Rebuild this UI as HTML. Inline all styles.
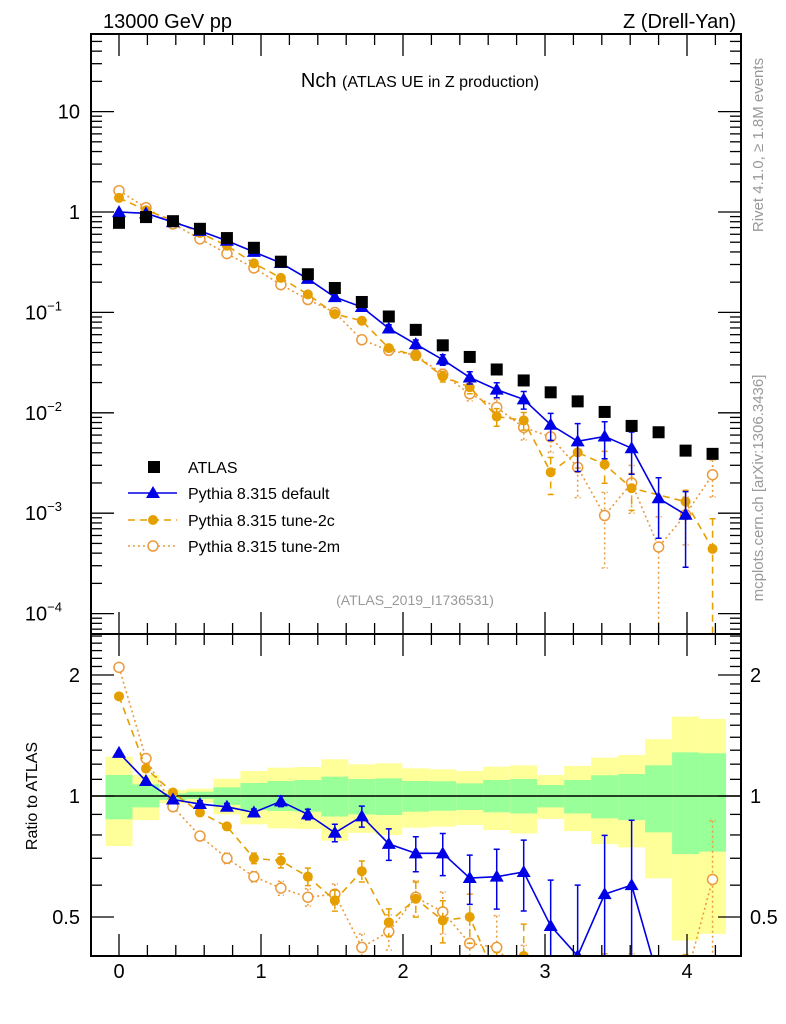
<!DOCTYPE html>
<html><head><meta charset="utf-8"><style>
html,body{margin:0;background:#fff;overflow:hidden;width:786px;height:1024px}
svg{display:block;font-family:"Liberation Sans",sans-serif}
</style></head><body>
<svg id="chart" width="786" height="1024" viewBox="0 0 786 1024" xmlns="http://www.w3.org/2000/svg">
<defs>
<clipPath id="clipMain"><rect x="91" y="34" width="650" height="600"/></clipPath>
<clipPath id="clipRatio"><rect x="91" y="634" width="650" height="322"/></clipPath>
</defs>
<g id="bands" clip-path="url(#clipRatio)"></g>
<g id="ratioMarks" clip-path="url(#clipRatio)"></g>
<g id="mainMarks" clip-path="url(#clipMain)"></g>
<g id="axes"></g>
<text x="103" y="28" font-size="20">13000 GeV pp</text>
<text x="736" y="28" font-size="20" text-anchor="end">Z (Drell-Yan)</text>
<text x="420" y="87" text-anchor="middle" font-size="20">Nch <tspan font-size="16">(ATLAS UE in Z production)</tspan></text>
<text x="415" y="605" text-anchor="middle" font-size="14" fill="#999">(ATLAS_2019_I1736531)</text>
<text transform="translate(763,145) rotate(-90)" text-anchor="middle" font-size="15" fill="#999">Rivet 4.1.0, ≥ 1.8M events</text>
<text transform="translate(763,488) rotate(-90)" text-anchor="middle" font-size="15" fill="#999">mcplots.cern.ch [arXiv:1306.3436]</text>
<text transform="translate(37,796) rotate(-90)" text-anchor="middle" font-size="16">Ratio to ATLAS</text>
<g id="legend"></g>
</svg>
<script>
const binStep = 0.19;
const dataVals = [0.78,0.89,0.81,0.68,0.55,0.44,0.32,0.24,0.175,0.127,0.091,0.067,0.047,0.036,0.027,0.021,0.016,0.013,0.0102,0.0074,0.0064,0.0042,0.0039];
const ratioDefault = [1.28,1.09,0.98,0.955,0.94,0.91,0.97,0.90,0.81,0.89,0.76,0.72,0.72,0.625,0.63,0.647,0.475,0.40,0.57,0.60,0.22,0.23,null];
const errDefault = [0.01,0.01,0.01,0.02,0.02,0.02,0.03,0.03,0.05,0.06,0.09,0.1,0.12,0.14,0.17,0.2,0.3,0.5,0.4,0.45,0.6,0.7,0];
const ratio2c = [1.77,1.17,1.02,0.91,0.84,0.70,0.69,0.63,0.55,0.65,0.485,0.555,0.49,0.50,0.34,0.40,0.16,0.31,0.30,0.24,null,0.31,0.113];
const err2c = [0.01,0.01,0.01,0.02,0.02,0.03,0.04,0.05,0.06,0.06,0.08,0.1,0.12,0.14,0.2,0.2,0.4,0.3,0.35,0.4,0,0.3,1.0];
const ratio2m = [2.09,1.24,0.94,0.795,0.70,0.63,0.59,0.56,0.57,0.42,0.46,0.56,0.515,0.43,0.42,0.34,0.36,0.22,0.093,0.27,0.072,0.23,0.62];
const err2m = [0.01,0.01,0.01,0.02,0.03,0.03,0.04,0.05,0.06,0.08,0.1,0.1,0.12,0.15,0.2,0.25,0.3,0.5,0.7,0.5,1.0,0.5,0.4];
const yellowHi = [1.253,1.128,1.035,1.043,1.104,1.154,1.176,1.181,1.234,1.199,1.206,1.172,1.165,1.154,1.183,1.192,1.128,1.188,1.246,1.265,1.384,1.576,1.555];
const yellowLo = [0.751,0.871,0.959,0.962,0.900,0.850,0.831,0.828,0.774,0.810,0.800,0.834,0.839,0.847,0.823,0.807,0.877,0.818,0.759,0.745,0.624,0.437,0.454];
const greenHi = [1.128,1.069,1.015,1.025,1.051,1.077,1.090,1.096,1.117,1.102,1.106,1.090,1.088,1.075,1.096,1.102,1.065,1.096,1.126,1.134,1.192,1.284,1.277];
const greenLo = [0.875,0.937,0.977,0.983,0.950,0.923,0.918,0.914,0.889,0.900,0.897,0.914,0.919,0.923,0.911,0.905,0.937,0.905,0.880,0.871,0.812,0.717,0.727];
const xTickLabels = ["0","1","2","3","4"];
const mainTickExps = [1,0,-1,-2,-3,-4];
const ratioTickLabels = ["2","1","0.5"];

const NS="http://www.w3.org/2000/svg";
function X(v){return 119+142*v;}
function YM(v){return 212-100.4*Math.log10(v);}
function YR(v){return 796-121*Math.log2(v);}
function mk(tag,attrs,parent){const e=document.createElementNS(NS,tag);for(const k in attrs)e.setAttribute(k,attrs[k]);parent.appendChild(e);return e;}
const gB=document.getElementById('bands'),gR=document.getElementById('ratioMarks'),gM=document.getElementById('mainMarks'),gA=document.getElementById('axes'),gL=document.getElementById('legend');

for(let i=0;i<dataVals.length;i++){
  const x0=X((i-0.5)*binStep),x1=X((i+0.5)*binStep);
  const y=mk('rect',{x:x0,y:YR(yellowHi[i]),width:x1-x0,height:YR(yellowLo[i])-YR(yellowHi[i]),fill:'#ffff99'},gB);
  
  
  const g=mk('rect',{x:x0,y:YR(greenHi[i]),width:x1-x0,height:YR(greenLo[i])-YR(greenHi[i]),fill:'#99ff99'},gB);
  
  
}
const one=mk('line',{x1:91,x2:741,y1:YR(1),y2:YR(1),stroke:'#000','stroke-width':1.5},gB);



const series=[
 {name:'default',r:ratioDefault,e:errDefault,col:'#0000e6',dash:'',marker:'tri',lw:1.6},
 {name:'tune-2c',r:ratio2c,e:err2c,col:'#e69f00',dash:'7,5',marker:'dot',lw:1.6},
 {name:'tune-2m',r:ratio2m,e:err2m,col:'#eb9a3c',dash:'2,3',marker:'ring',lw:1.6}
];
function marker(type,x,y,col,parent,name){
  let e;
  if(type==='tri') e=mk('polygon',{points:`${x},${y-7} ${x-7},${y+5} ${x+7},${y+5}`,fill:col},parent);
  else if(type==='dot') e=mk('circle',{cx:x,cy:y,r:5,fill:col},parent);
  else if(type==='ring') e=mk('circle',{cx:x,cy:y,r:5,fill:'#fff',stroke:col,'stroke-width':1.5},parent);
  else e=mk('rect',{x:x-6,y:y-6,width:12,height:12,fill:'#000'},parent);
  
  
  return e;
}
function clampY(y){return Math.max(20,Math.min(y,960));}
function drawSeries(s,parent,yf,isMain){
  let pts=[];
  for(let i=0;i<s.r.length;i++){
    if(s.r[i]==null){continue;}
    const v=isMain?s.r[i]*dataVals[i]:s.r[i];
    pts.push([X(i*binStep),yf(v),v,s.e[i]]);
  }
  const pl=mk('polyline',{points:pts.map(p=>p[0]+','+Math.min(p[1],980)).join(' '),fill:'none',stroke:s.col,'stroke-width':s.lw,'stroke-dasharray':s.dash},parent);
  
  
  pts.forEach((p,k)=>{
    if(p[3]>0){
      const hi=clampY(yf(p[2]*(1+p[3]))), lo=(1-p[3])>0.001?clampY(yf(p[2]*(1-p[3]))):960;
      if(hi<960){
        const eb=mk('path',{d:`M${p[0]},${hi}V${lo}M${p[0]-3},${hi}h6M${p[0]-3},${lo}h6`,stroke:s.col,'stroke-width':1.5,fill:'none','stroke-dasharray':s.dash},parent);
        
        
      }
    }
    if(p[1]<980) marker(s.marker,p[0],p[1],s.col,parent,s.name+'-point');
  });
}
series.slice().reverse().forEach(s=>{drawSeries(s,gR,YR,false);});
series.slice().reverse().forEach(s=>{drawSeries(s,gM,YM,true);});
dataVals.forEach((v,i)=>marker('sq',X(i*binStep),YM(v),'#000',gM,'atlas-point'));

[[91,34,650,600],[91,634,650,322]].forEach((r,k)=>{
  const f=mk('rect',{x:r[0],y:r[1],width:r[2],height:r[3],fill:'none',stroke:'#000','stroke-width':2},gA);
  
  
});
function tick(x1,y1,x2,y2){const t=mk('line',{x1,y1,x2,y2,stroke:'#000','stroke-width':1.3},gA);}
for(let k=-1;k<=21;k++){
  const v=k*0.2, x=X(v); if(x<92||x>740) continue;
  const major=(k%5===0), L=major?22:11;
  [34,634,956].forEach(yb=>{
    if(yb!==956) tick(x,yb,x,yb+L);
    if(yb!==34) tick(x,yb,x,yb-L);
  });
}
xTickLabels.forEach((l,i)=>{const t=mk('text',{x:X(i),y:978,'font-size':20,'text-anchor':'middle'},gA);t.textContent=l;});
for(let e=-5;e<=1;e++){
  for(let m=1;m<=9;m++){
    const v=m*Math.pow(10,e), y=YM(v); if(y<35||y>633) continue;
    const L=m===1?23:11;
    tick(91,y,91+L,y); tick(741,y,741-L,y);
  }
}
mainTickExps.forEach(e=>{
  const y=YM(Math.pow(10,e));
  const t=mk('text',{x:80,y:y+7,'font-size':20,'text-anchor':'end'},gA);
  
  
  if(e===1) t.textContent='10';
  else if(e===0) t.textContent='1';
  else {t.setAttribute('x',62);t.textContent='10';const s=mk('tspan',{'font-size':13,dy:-9},t);s.textContent='−'+(-e);}
});
for(let k=4;k<=26;k++){
  const v=k/10,y=YR(v); if(y<635||y>955) continue;
  const L=(k===5||k===10||k===20)?23:11;
  tick(91,y,91+L,y); tick(741,y,741-L,y);
}
ratioTickLabels.forEach(l=>{
  const y=YR(parseFloat(l));
  const a=mk('text',{x:80,y:y+7,'font-size':20,'text-anchor':'end'},gA);a.textContent=l;
  
  
  const b=mk('text',{x:750,y:y+7,'font-size':20},gA);b.textContent=l;
  
  
});
const legItems=[['ATLAS','sq','#000','',467],['Pythia 8.315 default','tri','#0000e6','',493],['Pythia 8.315 tune-2c','dot','#e69f00','7,5',520],['Pythia 8.315 tune-2m','ring','#eb9a3c','2,3',546]];
legItems.forEach(it=>{
  const g=mk('g',{},gL);
  
  
  if(it[1]!=='sq'){mk('line',{x1:128,x2:177,y1:it[4],y2:it[4],stroke:it[2],'stroke-width':1.5,'stroke-dasharray':it[3]},g);}
  if(it[1]==='sq') mk('rect',{x:148,y:it[4]-6,width:12,height:12,fill:'#000'},g);
  else marker(it[1],153,it[4],it[2],g,'legend-marker');
  const t=mk('text',{x:188,y:it[4]+6,'font-size':16},g);t.textContent=it[0];
});
</script>
</body></html>
